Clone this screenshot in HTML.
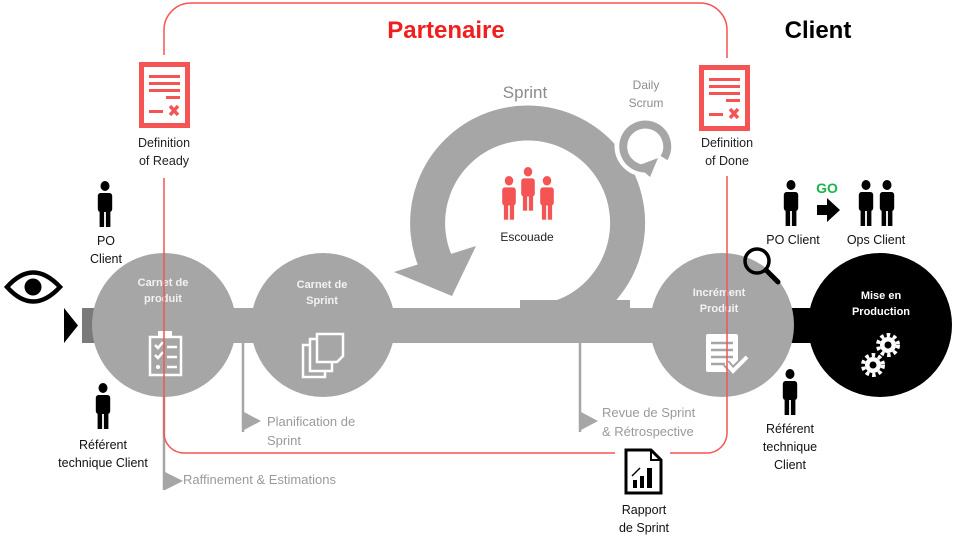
<!DOCTYPE html>
<html><head><meta charset="utf-8"><style>
html,body{margin:0;padding:0;background:#fff;}
svg{display:block;font-family:"Liberation Sans",sans-serif;}
</style></head><body>
<svg width="964" height="547" viewBox="0 0 964 547" xmlns="http://www.w3.org/2000/svg">
<defs>
<g id="p"><circle cx="0" cy="5" r="5"/><rect x="-8" y="12" width="16" height="19" rx="3"/><rect x="-6" y="28" width="5" height="18"/><rect x="1" y="28" width="5" height="18"/></g>
<g id="doc"><rect x="2.5" y="2.5" width="46" height="61" fill="#fff" stroke="#f45454" stroke-width="5"/><g fill="#f45454"><rect x="10" y="13" width="31" height="3"/><rect x="10" y="20" width="31" height="3"/><rect x="10" y="27" width="31" height="3"/><rect x="27" y="34" width="14" height="3"/><rect x="10" y="48" width="14" height="3"/></g><path d="M31 44 L39 53 M39 44 L31 53" stroke="#f45454" stroke-width="3.5"/></g>
</defs>

<rect x="82" y="308" width="14" height="35" fill="#7a7a7a"/>
<rect x="95" y="308" width="700" height="35" fill="#a6a6a6"/>
<rect x="790" y="308" width="22" height="35" fill="#000"/>
<path d="M64 308 L78 325.5 L64 343Z" fill="#000"/>

<path d="M441 273 A100 100 0 1 1 528 323" fill="none" stroke="#a6a6a6" stroke-width="35"/>
<path d="M394 272 L476 246 L452 296Z" fill="#a6a6a6"/>
<rect x="520" y="300" width="110" height="10" fill="#a6a6a6"/>

<circle cx="645" cy="146" r="23" fill="none" stroke="#fff" stroke-width="15"/>
<path d="M650 168 A22 22 0 1 1 664 158" fill="none" stroke="#a6a6a6" stroke-width="8"/>
<path d="M637 166 L658 158 L650 177Z" fill="#a6a6a6"/>

<circle cx="164" cy="325" r="72" fill="#a6a6a6"/>
<circle cx="323" cy="325" r="72" fill="#a6a6a6"/>
<circle cx="722" cy="325" r="72" fill="#a6a6a6"/>
<circle cx="880" cy="325" r="72" fill="#000"/>

<g fill="#f2f2f2" font-weight="bold" font-size="11" text-anchor="middle">
<text x="163" y="286">Carnet de</text><text x="163" y="302">produit</text>
<text x="322" y="288">Carnet de</text><text x="322" y="304">Sprint</text>
<text x="719" y="296">Incrément</text><text x="719" y="312">Produit</text>
<text x="881" y="299" fill="#fff">Mise en</text><text x="881" y="315" fill="#fff">Production</text>
</g>

<g fill="none" stroke="#fff" stroke-width="2.5">
<rect x="150" y="337" width="31" height="38"/>
<path d="M155 345 l3 3 l5 -6 M155 355 l3 3 l5 -6"/>
<path d="M167 347 h10 M167 357 h10 M167 367 h10"/>
</g>
<rect x="158" y="331" width="14" height="6" fill="#fff"/><circle cx="158" cy="367" r="2" fill="#fff"/>
<g fill="#a6a6a6" stroke="#fff" stroke-width="2.5">
<rect x="303" y="345" width="22" height="32"/><rect x="310" y="339" width="22" height="32"/><path d="M317 334 h26 v22 l-6 6 h-20Z"/>
</g>
<rect x="706" y="334" width="32" height="38" fill="#fff" rx="2"/>
<g stroke="#a6a6a6" stroke-width="2.5"><path d="M711 343 h22 M711 350 h22 M711 357 h22 M711 364 h14"/></g>
<path d="M726 363 l7 8 l14 -14" fill="none" stroke="#a6a6a6" stroke-width="8"/>
<path d="M726 363 l7 8 l14 -14" fill="none" stroke="#fff" stroke-width="4"/>
<rect x="855" y="323" width="53" height="63" fill="#000"/>
<g fill="#fff"><circle cx="888" cy="345" r="8"/><circle cx="873" cy="365" r="8"/></g>
<g fill="none" stroke="#fff" stroke-width="4" stroke-dasharray="3.5 3"><circle cx="888" cy="345" r="10"/><circle cx="873" cy="365" r="10"/></g>
<circle cx="888" cy="345" r="3.5" fill="#000"/><circle cx="873" cy="365" r="3.5" fill="#000"/>

<g stroke="#a6a6a6" stroke-width="2.5"><path d="M164 395 V490 M243 343 V432 M580 343 V432"/></g>
<g fill="#a6a6a6"><path d="M165 472 L183 481 L165 490Z M244 412 L261 421 L244 430Z M581 412 L598 421 L581 430Z"/></g>
<g fill="#9a9a9a" font-size="13">
<text x="183" y="484">Raffinement &amp; Estimations</text>
<text x="267" y="426">Planification de</text><text x="267" y="445">Sprint</text>
<text x="602" y="417">Revue de Sprint</text><text x="602" y="436">&amp; Rétrospective</text>
</g>

<path d="M164 55 V30 A27 27 0 0 1 191 3 H700 A27 27 0 0 1 727 30 V58 M727 176 V433 A20 20 0 0 1 707 453 H670 M615 453 H184 A20 20 0 0 1 164 433 V178" fill="none" stroke="#f45454" stroke-width="1.5"/>
<text x="446" y="38" fill="#f01e1e" font-size="24" font-weight="bold" text-anchor="middle">Partenaire</text>
<text x="818" y="38" fill="#000" font-size="24" font-weight="bold" text-anchor="middle">Client</text>

<use href="#doc" x="139" y="62"/>
<use href="#doc" x="699" y="65"/>
<g font-size="12.5" text-anchor="middle" fill="#222">
<text x="164" y="147">Definition</text><text x="164" y="165">of Ready</text>
<text x="727" y="147">Definition</text><text x="727" y="165">of Done</text>
</g>

<text x="525" y="98" fill="#8c8c8c" font-size="17" text-anchor="middle">Sprint</text>
<text x="646" y="89" fill="#8c8c8c" font-size="12" text-anchor="middle">Daily</text>
<text x="646" y="107" fill="#8c8c8c" font-size="12" text-anchor="middle">Scrum</text>
<g fill="#f45454"><use href="#p" transform="translate(509,176) scale(0.85,0.95)"/><use href="#p" transform="translate(547,176) scale(0.85,0.95)"/><use href="#p" transform="translate(528,167) scale(0.85,0.95)"/></g>
<text x="527" y="241" fill="#222" font-size="12" text-anchor="middle">Escouade</text>

<g fill="#000">
<use href="#p" transform="translate(105,181) scale(0.9,1)"/>
<use href="#p" transform="translate(103,383) scale(0.9,1)"/>
<use href="#p" transform="translate(790,369) scale(0.9,1)"/>
<use href="#p" transform="translate(791,180) scale(0.9,1)"/>
<use href="#p" transform="translate(866,180) scale(0.9,1)"/>
<use href="#p" transform="translate(887,180) scale(0.9,1)"/>
<path d="M817 205 h10 v-7 l13 12 l-13 12 v-7 h-10Z"/>
</g>
<text x="827" y="193" fill="#1db34b" font-size="14" font-weight="bold" text-anchor="middle">GO</text>
<g font-size="12.5" text-anchor="middle" fill="#111">
<text x="106" y="245">PO</text><text x="106" y="263">Client</text>
<text x="103" y="449">Référent</text><text x="103" y="467">technique Client</text>
<text x="790" y="433">Référent</text><text x="790" y="451">technique</text><text x="790" y="469">Client</text>
<text x="793" y="244">PO Client</text><text x="876" y="244">Ops Client</text>
<text x="644" y="514">Rapport</text><text x="644" y="532">de Sprint</text>
</g>

<path d="M7 287 Q33 258 60 287 Q33 316 7 287Z" fill="#fff" stroke="#000" stroke-width="4.5"/>
<circle cx="33" cy="287" r="8.5" fill="#000"/>
<circle cx="757" cy="261" r="12" fill="none" stroke="#000" stroke-width="3.5"/>
<path d="M766 270 L778 282" stroke="#000" stroke-width="5" stroke-linecap="round"/>
<path d="M626 450 H651 L661 460 V493 H626Z" fill="#fff" stroke="#000" stroke-width="3"/>
<path d="M651 450 V460 H661" fill="none" stroke="#000" stroke-width="2"/>
<g fill="#000"><rect x="633" y="480" width="4" height="8"/><rect x="640" y="476" width="4" height="12"/><rect x="647" y="468" width="5" height="20"/></g>
<path d="M632 476 L640 468" stroke="#000" stroke-width="1.5"/>
</svg>
</body></html>
